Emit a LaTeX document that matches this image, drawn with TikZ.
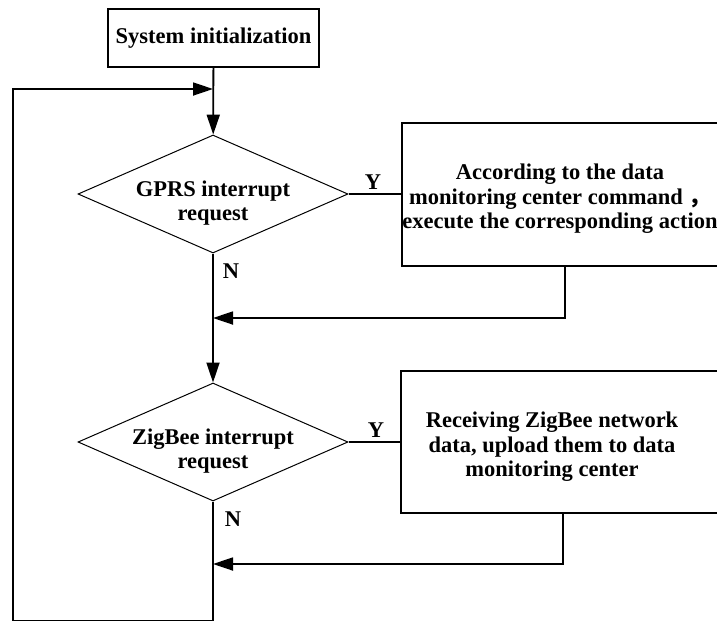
\documentclass[tikz,border=0pt]{standalone}
\usepackage{fontspec}
\setmainfont{Liberation Serif}
\newfontfamily\cjk{Noto Sans CJK SC}
\usetikzlibrary{shapes.geometric,arrows.meta}
\begin{document}
\begin{tikzpicture}[x=1pt,y=-1pt,
  every node/.style={font=\fontsize{22.5}{24.5}\selectfont\bfseries, inner sep=0pt, align=center},
  flow/.style={line width=1.8pt},
  arr/.style={flow,-{Triangle[length=20pt,width=13pt]}},
  boxst/.style={draw, line width=1.2pt, rectangle},
  decst/.style={draw, line width=1pt, diamond, aspect=2.29, minimum width=270pt, minimum height=118pt},
  lbl/.style={font=\fontsize{22.5}{24}\selectfont\bfseries}]
\useasboundingbox (0,0) rectangle (717,622);
\node[boxst, minimum width=211pt, minimum height=58pt] (init) at (213.5,38) {System initialization};
\node[decst] (gprs) at (213,194) {};
\node (gt) at (213,203) {GPRS interrupt\\request};
\node[decst] (zig) at (213,442) {};
\node (zt) at (213,451) {ZigBee interrupt\\request};
\node[boxst, minimum width=326pt, minimum height=143pt] (act1) at (565,194.5) {};
\node (t1) at (560,199) {According to the data\\monitoring center command \cjk{，}\\execute the corresponding action};
\node[boxst, minimum width=324pt, minimum height=142pt] (act2) at (563,442) {};
\node (t2) at (552,447) {Receiving ZigBee network\\data, upload them to data\\monitoring center};
\node[lbl] (y1) at (373,182) {Y};
\node[lbl] (y2) at (376,430) {Y};
\node[lbl] (n1) at (231,271) {N};
\node[lbl] (n2) at (233,519) {N};
\coordinate (j0) at (213,89);
\coordinate (j1) at (213,318);
\coordinate (j2) at (213,564);
\coordinate (bot) at (213,620.5);
\coordinate (lt) at (13,89);
\draw[arr] (init) -- (gprs);
\draw[arr] (gprs) -- (zig);
\draw[flow] (gprs.east) -- (gprs.east -| act1.west);
\draw[flow] (zig.east) -- (zig.east -| act2.west);
\draw[arr] (act1.south) |- (j1);
\draw[arr] (act2.south) |- (j2);
\draw[arr] (zig.south) -- (bot) -| (lt) -- (j0);
\end{tikzpicture}
\end{document}
